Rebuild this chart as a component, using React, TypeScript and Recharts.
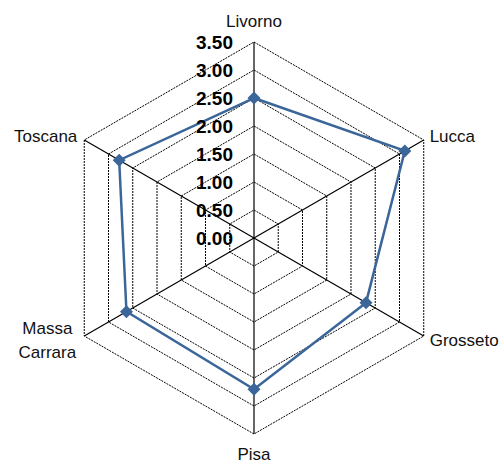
import { RadarChart, Radar, PolarGrid, PolarAngleAxis, PolarRadiusAxis } from "recharts"

// ─── Data ────────────────────────────────────────────────────────────────────

const PROVINCES = ["Livorno", "Lucca", "Grosseto", "Pisa", "Massa Carrara", "Toscana"]
const VALUES = [2.5, 3.11, 2.31, 2.7, 2.63, 2.78]
const RADIUS_TICKS = [0, 0.5, 1, 1.5, 2, 2.5, 3, 3.5]

const TOP_TICK = RADIUS_TICKS[RADIUS_TICKS.length - 1]
const DATA = PROVINCES.map((name, i) => ({ name, value: VALUES[i], spoke: TOP_TICK }))

const BLUE = "#3b6699"
const FONT = "'Liberation Sans', Arial, sans-serif"
const NARROW = "'Liberation Sans Narrow', 'Arial Narrow', 'Liberation Sans', sans-serif"

// radius axis gets niced to 4, so the plot radius is stretched so 3.5 lands on 196px
const GRID_R = 196
const AXIS_MAX = 4
const OUTER_R = (GRID_R * AXIS_MAX) / TOP_TICK

// ─── Ticks ───────────────────────────────────────────────────────────────────

function AngleTick(props: any) {
    const { x, y, payload, textAnchor } = props
    const lines = String(payload.value).split(" ")
    let dx = 0
    let dy = 0
    let anchor = textAnchor
    if (textAnchor === "start") dx = -1
    if (textAnchor === "middle") {
        dy = y < 238 ? -13 : 12
    }
    if (lines.length > 1) {
        anchor = "middle"
        dx = -30
    }
    const lh = 24
    const y0 = y + dy - ((lines.length - 1) * lh) / 2
    return (
        <text x={x + dx} y={y0} textAnchor={anchor} dominantBaseline="central" fontSize={17} fontFamily={FONT} fill="#111">
            {lines.map((l, i) => (
                <tspan key={i} x={x + dx} y={y0 + i * lh} dominantBaseline="central">
                    {l}
                </tspan>
            ))}
        </text>
    )
}

function RadiusTick(props: any) {
    const { x, y, payload } = props
    return (
        <text x={x - 21} y={y} textAnchor="end" dominantBaseline="central" fontSize={19} fontWeight="bold" fontFamily={NARROW} fill="#000">
            {Number(payload.value).toFixed(2)}
        </text>
    )
}

function Diamond(props: any) {
    const { cx, cy } = props
    const s = 6.5
    return <path d={`M${cx},${cy - s}L${cx + s},${cy}L${cx},${cy + s}L${cx - s},${cy}Z`} fill={BLUE} stroke="none" />
}

// solid spokes from the centre out to the last grid ring
function Spokes(props: any) {
    const pts = props.points || []
    return (
        <g>
            {pts.map((p: any, i: number) => (
                <line key={i} x1={p.cx} y1={p.cy} x2={p.x} y2={p.y} stroke="#000" strokeWidth={1.2} />
            ))}
        </g>
    )
}

// ─── Chart ───────────────────────────────────────────────────────────────────

export default function App() {
    return (
        <div style={{ position: "absolute", left: 0, top: 0, width: 502, height: 464, background: "#fff" }}>
            <RadarChart width={502} height={464} data={DATA} cx={254} cy={238} outerRadius={OUTER_R} margin={{ top: 0, right: 0, bottom: 0, left: 0 }}>
                <PolarGrid gridType="polygon" radialLines={false} stroke="#000" strokeDasharray="2 1" strokeOpacity={1} />
                <PolarAngleAxis dataKey="name" tick={<AngleTick />} tickLine={false} axisLine={false} tickSize={GRID_R + 8 - OUTER_R} />
                <PolarRadiusAxis
                    angle={90}
                    domain={[0, AXIS_MAX]}
                    ticks={RADIUS_TICKS as any}
                    axisLine={false}
                    tickLine={false}
                    tick={<RadiusTick />}
                />
                <Radar dataKey="spoke" shape={(p: any) => <Spokes {...p} />} isAnimationActive={false} />
                <Radar dataKey="value" stroke={BLUE} strokeWidth={2.5} fill="none" fillOpacity={0} dot={<Diamond />} isAnimationActive={false} />
            </RadarChart>
        </div>
    )
}
